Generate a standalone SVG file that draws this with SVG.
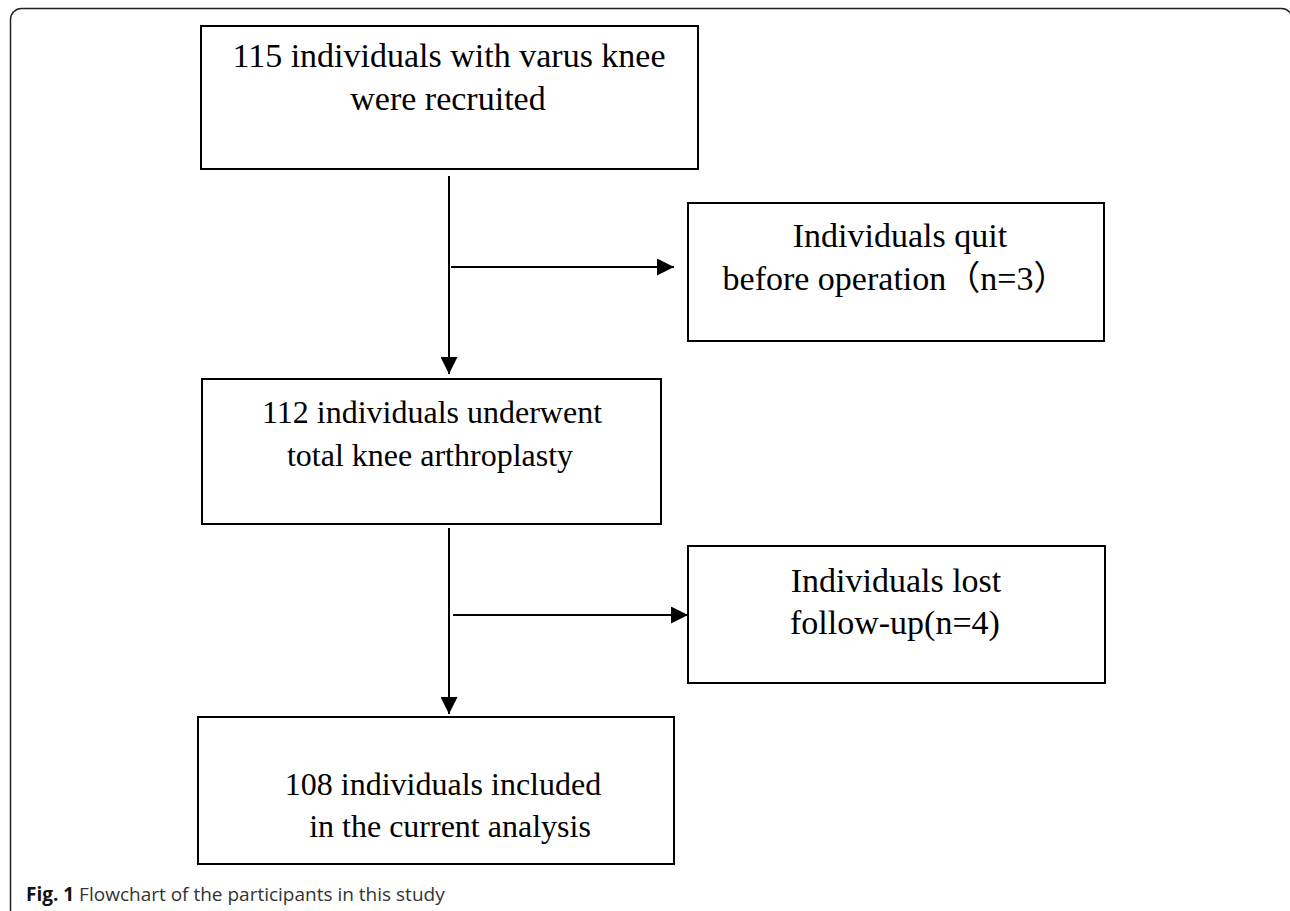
<svg xmlns="http://www.w3.org/2000/svg" width="1290" height="911" viewBox="0 0 1290 911">
<style>
.box{fill:#fff;stroke:#000;stroke-width:2}
.t{font-family:"Liberation Serif","Times New Roman",serif;fill:#000;text-anchor:middle}
.t34{font-size:34px}
.t32{font-size:32px}
.conn{stroke:#000;stroke-width:2;fill:none}
.cap{font-family:"Open Sans","Noto Sans",sans-serif;font-size:19px;fill:#333}
</style>
<defs>
<marker id="ah" viewBox="0 0 17 17" refX="17" refY="8.5" markerWidth="17" markerHeight="17" markerUnits="userSpaceOnUse" orient="auto">
<path d="M0,0 L17,8.5 L0,17 Z" fill="#000"/>
</marker>
</defs>
<rect x="10.5" y="8.5" width="1282" height="913" rx="11" fill="#fff" stroke="#222" stroke-width="1.5"/>
<g id="connectors">
<line class="conn" x1="449" y1="176" x2="449" y2="374" marker-end="url(#ah)"/>
<line class="conn" x1="451" y1="267" x2="674" y2="267" marker-end="url(#ah)"/>
<line class="conn" x1="449" y1="528" x2="449" y2="714" marker-end="url(#ah)"/>
<line class="conn" x1="453" y1="615" x2="688" y2="615" marker-end="url(#ah)"/>
</g>
<g id="n1">
<rect class="box" x="201" y="26" width="497" height="143"/>
<text class="t t34" x="449" y="67">115 individuals with varus knee</text>
<text class="t t34" x="448" y="110">were recruited</text>
</g>
<g id="n2">
<rect class="box" x="688" y="203" width="416" height="138"/>
<text class="t t34" x="900" y="247">Individuals quit</text>
<text class="t t34" x="895" y="290" style="font-family:'Liberation Serif','Noto Sans CJK SC',serif">before operation（n=3）</text>
</g>
<g id="n3">
<rect class="box" x="202" y="379" width="459" height="145"/>
<text class="t t32" x="432" y="423">112 individuals underwent</text>
<text class="t t32" x="430" y="466">total knee arthroplasty</text>
</g>
<g id="n4">
<rect class="box" x="688" y="546" width="417" height="137"/>
<text class="t t34" x="896" y="592">Individuals lost</text>
<text class="t t34" x="895" y="634">follow-up(n=4)</text>
</g>
<g id="n5">
<rect class="box" x="198" y="717" width="476" height="147"/>
<text class="t t32" x="443" y="795">108 individuals included</text>
<text class="t t32" x="450" y="837">in the current analysis</text>
</g>
<g id="caption">
<text class="cap" x="26" y="901"><tspan font-weight="bold" fill="#111">Fig. 1</tspan> Flowchart of the participants in this study</text>
</g>
</svg>
